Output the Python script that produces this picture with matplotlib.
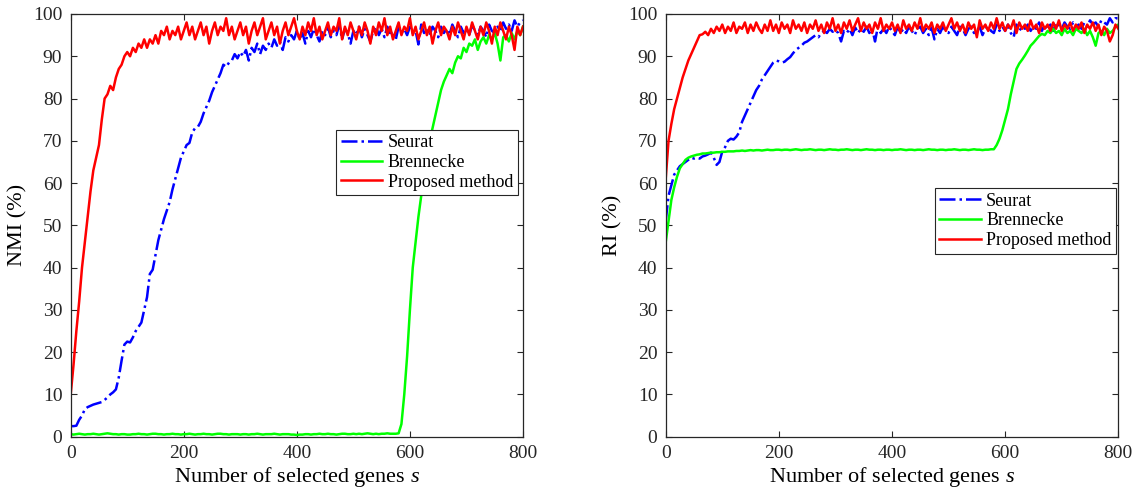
import matplotlib
matplotlib.use('Agg')
from matplotlib import pyplot as plt

plt.rcParams['font.family'] = ['Liberation Serif', 'DejaVu Serif']
plt.rcParams['mathtext.fontset'] = 'custom'
plt.rcParams['mathtext.rm'] = 'Liberation Serif'
plt.rcParams['mathtext.it'] = 'Liberation Serif:italic'

genes = list(range(0, 801, 5))

nmi_seurat = [
    2.5, 2.5, 2.6, 4, 5, 6.5, 7, 7.3, 7.6, 7.8, 8, 8.2, 8.7, 9.3, 10, 10.5, 11.2, 14, 18, 21.8,
    22.5, 22.3, 23.5, 25, 26, 27, 30, 33, 38.5, 39.5, 43, 46.5, 49, 51.5, 53.5, 55.5, 58.5, 61, 63.5, 66,
    67.5, 69, 69.5, 72, 73, 73.3, 74.5, 76.5, 78, 79.5, 81.5, 83, 84.5, 86, 88, 87.5, 88.5, 89, 90.5, 89.5,
    91, 90, 91.5, 89, 92, 91, 93, 90.5, 92.5, 91.5, 93, 92, 94, 92.5, 93.5, 91.5, 94.5, 93.5, 95, 94,
    96, 94, 95.5, 93, 96, 94.5, 96.5, 95, 93.5, 96, 95, 97, 94.5, 96, 95, 97.5, 94, 96.5, 95.5, 93,
    96, 95, 97, 94.5, 96.5, 95, 93.5, 96, 97, 95, 96.5, 94.5, 97, 95.5, 96, 94, 97, 95.5, 96.5, 95,
    97, 95.5, 96, 92.8, 97.5, 95.5, 96.5, 95, 97, 96, 94.5, 97, 95.5, 96.5, 95, 97.5, 96, 94.5, 97, 95.5,
    96.5, 95, 97.5, 96, 95, 97, 96, 94.5, 97.5, 96, 95.5, 97, 96, 98, 96.5, 97.5, 96, 98.5, 97, 98,
    98.5]
nmi_brennecke = [
    0.6, 0.5, 0.6, 0.7, 0.6, 0.5, 0.6, 0.6, 0.7, 0.6, 0.5, 0.6, 0.7, 0.8, 0.7, 0.6, 0.6, 0.5, 0.6, 0.6,
    0.5, 0.5, 0.6, 0.6, 0.7, 0.6, 0.6, 0.5, 0.6, 0.7, 0.7, 0.6, 0.6, 0.5, 0.6, 0.6, 0.7, 0.6, 0.6, 0.5,
    0.6, 0.6, 0.7, 0.6, 0.5, 0.6, 0.6, 0.7, 0.6, 0.6, 0.5, 0.6, 0.7, 0.7, 0.6, 0.6, 0.5, 0.6, 0.6, 0.6,
    0.5, 0.6, 0.6, 0.5, 0.6, 0.6, 0.7, 0.6, 0.5, 0.6, 0.6, 0.6, 0.7, 0.6, 0.5, 0.6, 0.6, 0.6, 0.5, 0.5,
    0.4, 0.5, 0.5, 0.6, 0.6, 0.5, 0.6, 0.6, 0.7, 0.6, 0.6, 0.7, 0.6, 0.6, 0.5, 0.6, 0.7, 0.7, 0.6, 0.6,
    0.7, 0.6, 0.7, 0.6, 0.7, 0.8, 0.7, 0.6, 0.7, 0.6, 0.7, 0.7, 0.8, 0.7, 0.7, 0.7, 0.8, 3.0, 10.0, 19.0,
    30, 40, 46, 52, 57, 61, 66, 70, 73, 76, 79, 82, 84, 85.5, 87, 86, 88.5, 90, 89.5, 92,
    91, 93, 92.5, 94, 91.5, 93.5, 94.5, 93, 95, 94, 95.5, 93, 89, 94.5, 95, 93.5, 95.5, 94, 96, 95,
    97]
nmi_proposed = [
    10, 17, 25, 32, 40, 46, 52, 58, 63, 66, 69, 75, 80, 81, 83, 82, 85, 87, 88, 90,
    91, 90, 92, 91, 93, 92, 94, 92, 94, 93, 95, 93, 96, 95, 97, 94, 96, 95, 97, 94,
    96, 98, 95, 97, 94, 96, 98, 95, 97, 93, 96, 98, 95, 97, 96, 99, 95, 97, 94, 96,
    98, 95, 97, 93, 96, 98, 95, 97, 99, 94, 96, 98, 95, 97, 93, 96, 98, 95, 97, 99,
    96, 94, 97, 95, 98, 96, 99, 95, 97, 94, 96, 98, 95, 97, 96, 99, 94, 97, 95, 98,
    96, 94, 97, 95, 98, 96, 93, 97, 95, 98, 96, 99, 95, 97, 94, 96, 98, 95, 97, 96,
    99, 95, 97, 94, 96, 98, 95, 97, 93, 96, 98, 95, 97, 96, 94, 97, 95, 98, 96, 94,
    97, 95, 98, 96, 94, 97, 95, 98, 96, 93, 97, 95, 98, 96, 94, 97, 95, 91.5, 97, 95,
    97]

ri_seurat = [
    51, 57, 59.5, 62, 63, 64, 64.5, 65, 65.5, 66, 65.8, 66, 65.8, 66.3, 66.5, 66.8, 67.2, 66, 64.3, 65,
    67.5, 68.5, 70, 70.5, 70.3, 71, 72, 74.5, 76, 77.5, 79, 80.5, 82, 83, 84.5, 85.5, 86.5, 87.5, 88.5, 89,
    88.8, 88.5, 88.7, 89.3, 89.8, 90.7, 91.5, 92, 92.5, 93.2, 93.5, 94, 94.5, 95, 94.5, 95.5, 96, 95.5, 96.5, 95.8,
    96.2, 95.5, 93.5, 96, 95.5, 96.5, 95, 96.8, 95.5, 96.5, 95.8, 97, 95.5, 96.5, 93.5, 97, 95.5, 96.5, 95.5, 97,
    96, 95, 97, 95.5, 96.5, 95.5, 97, 96, 95, 96.5, 97, 95.5, 96.5, 95, 96.8, 94, 96.5, 95.5, 97, 96,
    95.5, 97, 96, 95, 97, 96.5, 95, 96.5, 97, 95.5, 96, 97, 95, 96.5, 97, 96, 95.5, 97.5, 96, 97,
    96, 97.5, 95.5, 94.5, 97.5, 96, 97, 96.5, 97.5, 96, 97, 96.5, 98, 96, 97.5, 96.5, 97.5, 96, 98, 97,
    96.5, 98, 97, 96.5, 98, 97, 97.5, 96.5, 98, 97, 98.5, 97.5, 98, 97, 98.5, 98, 97.5, 99, 98, 99,
    99]
ri_brennecke = [
    46, 51, 56, 59, 61.5, 63.5, 64.5, 65.5, 66, 66.3, 66.5, 66.7, 66.8, 67, 67, 67.1, 67.2, 67.2, 67.3, 67.3,
    67.4, 67.4, 67.5, 67.5, 67.5, 67.6, 67.6, 67.7, 67.6, 67.7, 67.8, 67.7, 67.8, 67.8, 67.7, 67.8, 67.9, 67.8, 67.8, 67.9,
    67.9, 67.8, 67.9, 67.9, 67.8, 67.9, 68, 67.9, 67.8, 67.9, 67.9, 68, 67.9, 67.8, 67.9, 67.9, 67.8, 67.9, 68, 67.9,
    67.9, 67.8, 67.9, 67.9, 68, 67.9, 67.8, 67.9, 67.9, 67.8, 67.9, 68, 67.9, 67.9, 67.8, 67.9, 67.9, 67.8, 67.9, 67.9,
    67.8, 67.9, 67.9, 68, 67.9, 67.8, 67.9, 67.9, 67.8, 67.9, 67.9, 67.8, 67.9, 68, 67.9, 67.9, 67.8, 67.9, 67.9, 67.8,
    67.9, 67.9, 68, 67.9, 67.8, 67.9, 67.9, 67.8, 67.9, 68, 67.9, 67.9, 67.8, 67.9, 67.9, 68, 68, 69, 70.5, 72.5,
    75, 77.5, 81, 84, 87, 88.3, 89.2, 90.2, 91.3, 92.5, 93.2, 94, 94.8, 95.3, 95, 96, 95.5, 96.5, 95.5, 96,
    95, 96.5, 95.5, 96, 95, 96.5, 96, 95.5, 96.5, 95, 96, 94.5, 92.5, 95.5, 96, 95, 96.5, 95.5, 96, 97,
    97.5]
ri_proposed = [
    61, 70, 74, 77.5, 80, 82.5, 85, 87, 89, 90.5, 92, 93.5, 95, 95.2, 95.8, 95, 96.5, 95.5, 97, 96,
    97.5, 95.5, 97, 96, 98, 95.5, 97, 96.5, 98, 95.5, 97.5, 96, 98, 96.5, 95.5, 97.5, 96, 98.5, 96, 97.5,
    95.5, 98, 96.5, 97.5, 95.5, 98.5, 96.5, 97.5, 96, 98, 95.5, 97.5, 96.5, 98.5, 96, 97.5, 95.5, 98, 96.5, 99,
    96, 97.5, 95.5, 98, 96.5, 98.5, 96, 97.5, 99, 96, 98, 96.5, 97.5, 95.5, 98, 96.5, 99, 96, 97.5, 96.5,
    98, 96, 97.5, 95.5, 98.5, 96.5, 97.5, 96, 98, 96.5, 99, 96, 97.5, 96.5, 98, 95.5, 97.5, 96.5, 98, 96,
    97.5, 99, 96.5, 98, 96, 97.5, 95.5, 98, 96.5, 97.5, 94.5, 98.5, 96.5, 97.5, 96, 98, 96.5, 99, 96.5, 98,
    96, 97.5, 96.5, 98.5, 95.5, 98, 96.5, 97.5, 96, 98.5, 96.5, 97.5, 95.5, 98, 96.5, 97.5, 96, 98, 96.5, 98.5,
    96, 97.5, 96.5, 98, 96, 97.5, 96.5, 98, 95.5, 97.5, 96.5, 98, 96, 97.5, 95, 97, 96, 93.5, 95, 97.5,
    96.5]

labels = ['Seurat', 'Brennecke', 'Proposed method']
colors = ['#0000ff', '#00ff00', '#ff0000']
styles = ['-.', '-', '-']

W, H = 1142, 492
fig = plt.figure(figsize=(W / 100, H / 100), dpi=100)
ax1 = fig.add_axes([70.7 / W, 1 - 436.7 / H, 452.3 / W, 422.7 / H])
ax2 = fig.add_axes([665.7 / W, 1 - 436.7 / H, 452.6 / W, 422.7 / H])

panels = [
    (ax1, [nmi_seurat, nmi_brennecke, nmi_proposed], 'NMI (%)', (0.988, 0.726)),
    (ax2, [ri_seurat, ri_brennecke, ri_proposed], 'RI (%)', (0.995, 0.588)),
]

for ax, series, ylab, anchor in panels:
    for vals, lab, c, ls in zip(series, labels, colors, styles):
        assert len(vals) == len(genes)
        ax.plot(genes, vals, ls, color=c, lw=1.8, label=lab)
    ax.set_xlim(0, 800)
    ax.set_ylim(0, 100)
    ax.set_xticks([0, 200, 400, 600, 800])
    ax.set_yticks(range(0, 101, 10))
    ax.tick_params(direction='in', top=True, right=True, length=4.5,
                   labelsize=14, colors='#262626', pad=6)
    for sp in ax.spines.values():
        sp.set_color('#262626')
        sp.set_linewidth(0.9)
    ax.set_xlabel('Number of selected genes $s$', fontsize=16, labelpad=2)
    ax.set_ylabel(ylab, fontsize=16, labelpad=4)
    leg = ax.legend(loc='upper right', bbox_to_anchor=anchor, fontsize=13,
                    fancybox=False, framealpha=1, edgecolor='#262626',
                    handlelength=2.3, handletextpad=0.3, labelspacing=0.15,
                    borderpad=0.25, borderaxespad=0)
    leg.get_frame().set_linewidth(0.8)

fig.savefig('out.png', dpi=100)
